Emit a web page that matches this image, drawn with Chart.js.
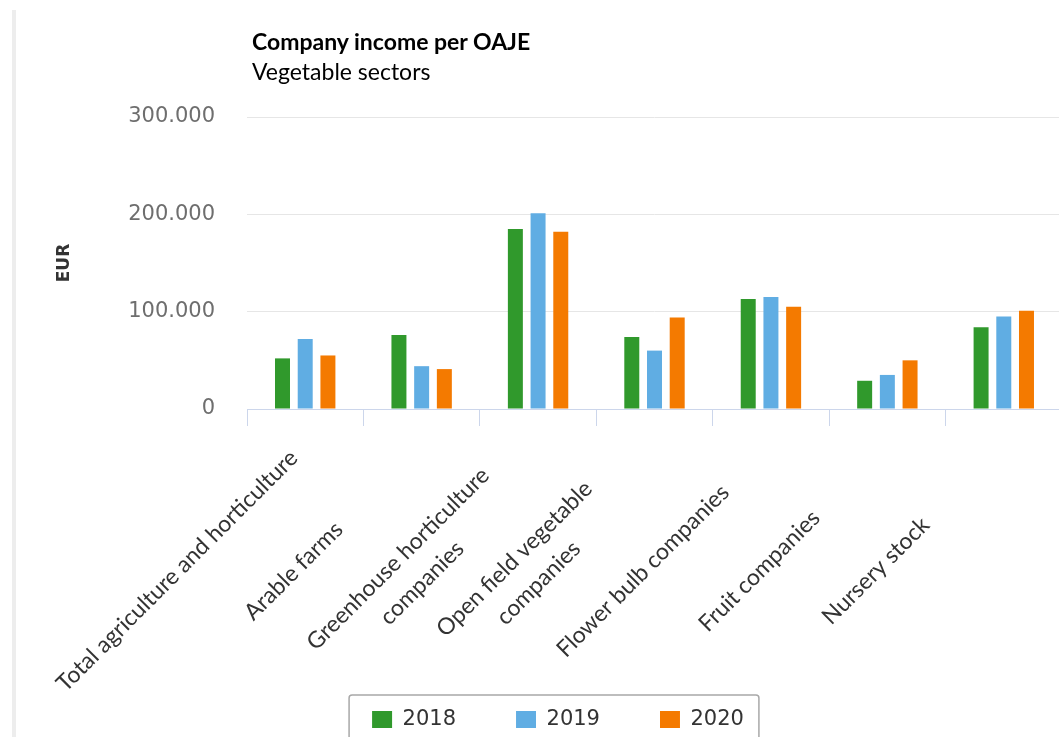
<!DOCTYPE html>
<html lang="en">
<head>
    <meta charset="UTF-8">
    <title>Company income per OAJE</title>
    <script src="https://cdn.jsdelivr.net/npm/chart.js"></script>
    <style>
        body { margin: 0; background: #fff; overflow: hidden; }
        #frame { position: absolute; left: 12px; top: 10px; width: 4px; height: 760px; background: #ededed; }
        #heading { position: absolute; left: 252px; top: 26px; font-family: Lato, sans-serif; font-size: 23px; line-height: 30px; color: #000; z-index: 2; }
        #heading b { font-weight: 700; }
        #wrap { position: absolute; left: 0; top: 0; width: 1080px; height: 750px; }
    </style>
</head>
<body>
    <div id="frame"></div>
    <div id="heading"><b>Company income per OAJE</b><br>Vegetable sectors</div>
    <div id="wrap"><canvas id="incomeChart"></canvas></div>

    <script>
        const categories = [
            'Total agriculture and horticulture',
            'Arable farms',
            ['Greenhouse horticulture', 'companies'],
            ['Open field vegetable', 'companies'],
            'Flower bulb companies',
            'Fruit companies',
            'Nursery stock'
        ];
        const years = ['2018', '2019', '2020'];
        const income2018 = [52000, 76000, 185000, 74000, 113000, 29000, 84000];
        const income2019 = [72000, 44000, 201000, 60000, 115000, 35000, 95000];
        const income2020 = [55000, 41000, 182000, 94000, 105000, 50000, 101000];
        const yTicks = [0, 100000, 200000, 300000];

        const colors = ['#30992c', '#60ade3', '#f47a00'];

        // category labels: rotated 45deg, centred lines, hung below each tick
        const categoryLabels = {
            id: 'categoryLabels',
            afterDraw(chart) {
                const { ctx } = chart;
                const x = chart.scales.x;
                ctx.save();
                ctx.font = '23px Lato';
                ctx.fillStyle = '#333';
                ctx.textAlign = 'center';
                ctx.textBaseline = 'middle';
                categories.forEach((label, i) => {
                    const lines = [].concat(label);
                    ctx.save();
                    ctx.translate(x.getPixelForValue(i), x.top);
                    ctx.rotate(-Math.PI / 4);
                    lines.forEach((line, j) => {
                        ctx.fillText(line, -205, 24 + (j - (lines.length - 1) / 2) * 34);
                    });
                    ctx.restore();
                });
                ctx.restore();
            }
        };

        // frame round the legend, open at the bottom
        const legendFrame = {
            id: 'legendFrame',
            afterDraw(chart) {
                const boxes = chart.legend.legendHitBoxes;
                if (!boxes || !boxes.length) return;
                const first = boxes[0], last = boxes[boxes.length - 1];
                const left = first.left - 23;
                const right = last.left + last.width + 15;
                const top = first.top - 14;
                const ctx = chart.ctx;
                ctx.save();
                ctx.strokeStyle = '#a8a8a8';
                ctx.lineWidth = 1.5;
                ctx.beginPath();
                ctx.moveTo(left, chart.height);
                ctx.lineTo(left, top + 3);
                ctx.quadraticCurveTo(left, top, left + 3, top);
                ctx.lineTo(right - 3, top);
                ctx.quadraticCurveTo(right, top, right, top + 3);
                ctx.lineTo(right, chart.height);
                ctx.stroke();
                ctx.restore();
            }
        };

        Chart.defaults.font.family = "'DejaVu Sans', Verdana, sans-serif";

        new Chart(document.getElementById('incomeChart'), {
            type: 'bar',
            data: {
                labels: categories,
                datasets: [income2018, income2019, income2020].map((values, i) => ({
                    label: years[i],
                    data: values,
                    backgroundColor: colors[i],
                    borderWidth: 0,
                    categoryPercentage: 0.585,
                    barPercentage: 0.66
                }))
            },
            options: {
                responsive: true,
                maintainAspectRatio: false,
                animation: false,
                layout: { padding: { left: 54, right: 18, top: 117, bottom: 10 } },
                scales: {
                    x: {
                        offset: true,
                        ticks: { display: false },
                        grid: { offset: true, drawOnChartArea: false, drawTicks: true, tickLength: 17, color: '#ccd6eb' },
                        border: { color: '#ccd6eb' },
                        afterFit(scale) { scale.height = 240; }
                    },
                    y: {
                        min: yTicks[0],
                        max: yTicks[yTicks.length - 1],
                        afterBuildTicks(scale) { scale.ticks = yTicks.map(v => ({ value: v })); },
                        ticks: {
                            padding: 32,
                            color: '#6e6e6e',
                            font: { size: 21 },
                            callback: v => v.toLocaleString('de-DE')
                        },
                        grid: { color: '#e6e6e6', drawTicks: false },
                        border: { display: false },
                        title: {
                            display: true,
                            text: 'EUR',
                            color: '#333',
                            font: { size: 17, weight: 'bold' },
                            padding: 0
                        },
                        afterFit(scale) { scale.width = 193; }
                    }
                },
                plugins: {
                    tooltip: { enabled: false },
                    legend: {
                        position: 'bottom',
                        labels: {
                            boxWidth: 20,
                            boxHeight: 17,
                            padding: 60,
                            color: '#333',
                            font: { size: 21 }
                        }
                    }
                }
            },
            plugins: [categoryLabels, legendFrame]
        });
    </script>
</body>
</html>
